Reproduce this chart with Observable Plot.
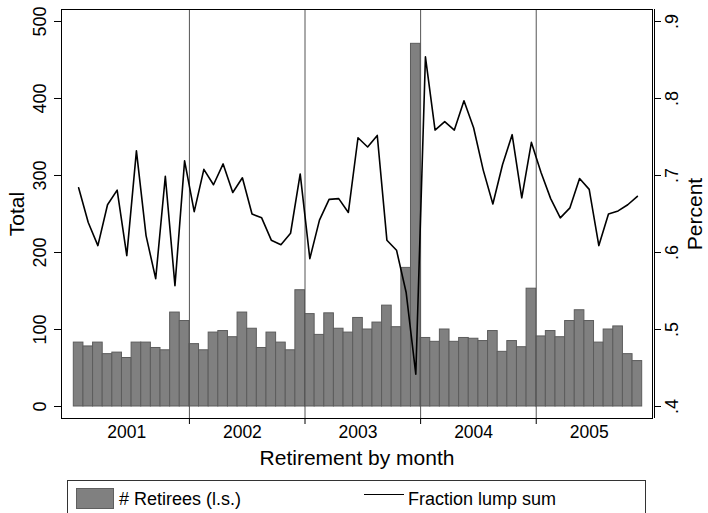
<!DOCTYPE html>
<html>
<head>
<meta charset="utf-8">
<script src="https://cdn.jsdelivr.net/npm/d3@7"></script>
<script src="https://cdn.jsdelivr.net/npm/@observablehq/plot@0.6"></script>
<style>
html,body{margin:0;padding:0;background:#fff;}
body{position:relative;width:708px;height:513px;overflow:hidden;font-family:"Liberation Sans",Arial,Helvetica,sans-serif;color:#000;}
#chart svg{display:block;}
#legend{position:absolute;left:67px;top:480px;width:579px;height:42px;border:1px solid #333;box-sizing:border-box;background:#fff;}
#legend .sw{position:absolute;left:8px;top:7px;width:38px;height:21px;background:#808080;border:1px solid #5f5f5f;box-sizing:border-box;}
#legend .ln{position:absolute;left:296px;top:13px;width:40px;height:0;border-top:1.5px solid #000;}
#legend .lb{position:absolute;top:9px;font-size:18px;line-height:18px;white-space:nowrap;}
</style>
</head>
<body>
<div id="chart"></div>
<div id="legend">
  <div class="sw"></div><div class="lb" style="left:51px"># Retirees (l.s.)</div>
  <div class="ln"></div><div class="lb" style="left:340px">Fraction lump sum</div>
</div>
<script>
// Year labels (x axis) – months Jan 2001 .. Nov 2005
const yearLabels = ["2001", "2002", "2003", "2004", "2005"];

// # Retirees per month (left scale)
const retirees = [
  83, 78, 83, 68, 70, 63, 83, 83, 76, 73, 122, 111,      // 2001
  81, 73, 96, 98, 90, 122, 101, 76, 96, 83, 73, 151,     // 2002
  120, 93, 121, 101, 96, 115, 100, 109, 131, 103, 180, 471, // 2003
  89, 84, 100, 84, 89, 88, 85, 98, 71, 85, 77, 153,      // 2004
  91, 98, 90, 111, 125, 111, 83, 100, 104, 68, 59        // 2005 (Jan-Nov)
];

// Fraction lump sum per month (right scale)
const lumpSum = [
  0.684, 0.639, 0.609, 0.662, 0.681, 0.596, 0.732, 0.622, 0.566, 0.699, 0.557, 0.719,
  0.653, 0.708, 0.688, 0.715, 0.678, 0.697, 0.650, 0.645, 0.616, 0.610, 0.625, 0.702,
  0.592, 0.642, 0.669, 0.670, 0.652, 0.749, 0.737, 0.752, 0.616, 0.603, 0.548, 0.442,
  0.854, 0.759, 0.770, 0.759, 0.797, 0.762, 0.707, 0.663, 0.714, 0.753, 0.671, 0.743,
  0.704, 0.670, 0.645, 0.658, 0.696, 0.682, 0.609, 0.650, 0.654, 0.662, 0.673
];

// Axis ticks
const leftTicks = [0, 100, 200, 300, 400, 500];
const rightTicks = [0.4, 0.5, 0.6, 0.7, 0.8, 0.9];
const rightTickLabels = [".4", ".5", ".6", ".7", ".8", ".9"];

// --- build table ---
const rows = retirees.map((v, i) => ({i, count: v, lump: lumpSum[i]}));
// map the right (percent) scale onto the left one: .4 -> 0, .9 -> 500
const toLeft = p => (p - 0.4) * 1000;
const rightTicksScaled = rightTicks.map(toLeft);
const yearBounds = yearLabels.slice(1).map((_, k) => (k + 1) * 12);
const yearMid = yearLabels.map((_, k) => k * 12 + 5.5);
const xDomain = [-1.277, 60.07];

const chart = Plot.plot({
  width: 708,
  height: 472,
  marginLeft: 61,
  marginRight: 56,
  marginTop: 9,
  marginBottom: 54,
  style: {fontFamily: '"Liberation Sans", Arial, Helvetica, sans-serif', background: "white", color: "black", overflow: "visible"},
  x: {type: "linear", domain: xDomain},
  y: {domain: [-15.58, 515.58]},
  marks: [
    Plot.rectY(rows, {x1: d => d.i, x2: d => d.i + 1, y1: 0, y2: "count", fill: "#808080", stroke: "#5c5c5c", strokeWidth: 1}),
    Plot.ruleX(yearBounds, {stroke: "#555", strokeWidth: 1}),
    Plot.line(rows, {x: d => d.i + 0.5, y: d => toLeft(d.lump), stroke: "black", strokeWidth: 1.6}),
    Plot.frame({stroke: "black", strokeWidth: 1}),
    // right-hand axis line (sits just outside the frame)
    Plot.ruleX([xDomain[1]], {dx: 2, stroke: "black", strokeWidth: 1}),
    Plot.axisY(leftTicks, {anchor: "left", tickSize: 7, tickRotate: -90, tickPadding: 9, fontSize: 18, label: null}),
    Plot.axisY(rightTicksScaled, {anchor: "right", dx: 2, tickSize: 6, tickRotate: -90, lineAnchor: "top", tickPadding: 5, fontSize: 18, label: null,
      tickFormat: d => rightTickLabels[rightTicksScaled.indexOf(d)]}),
    Plot.axisX(yearBounds, {anchor: "bottom", tickSize: 6, tickFormat: () => "", label: null}),
    Plot.text(yearLabels, {x: (d, k) => yearMid[k], text: d => d, frameAnchor: "bottom", lineAnchor: "top", dy: 7, fontSize: 17.5}),
    Plot.text(["Total"], {frameAnchor: "left", dx: -44, rotate: -90, textAnchor: "middle", lineAnchor: "middle", fontSize: 21}),
    Plot.text(["Percent"], {frameAnchor: "right", dx: 43, rotate: -90, textAnchor: "middle", lineAnchor: "middle", fontSize: 21}),
    Plot.text(["Retirement by month"], {frameAnchor: "bottom", dy: 40, textAnchor: "middle", lineAnchor: "middle", fontSize: 21})
  ]
});
document.getElementById("chart").appendChild(chart);
</script>
</body>
</html>
